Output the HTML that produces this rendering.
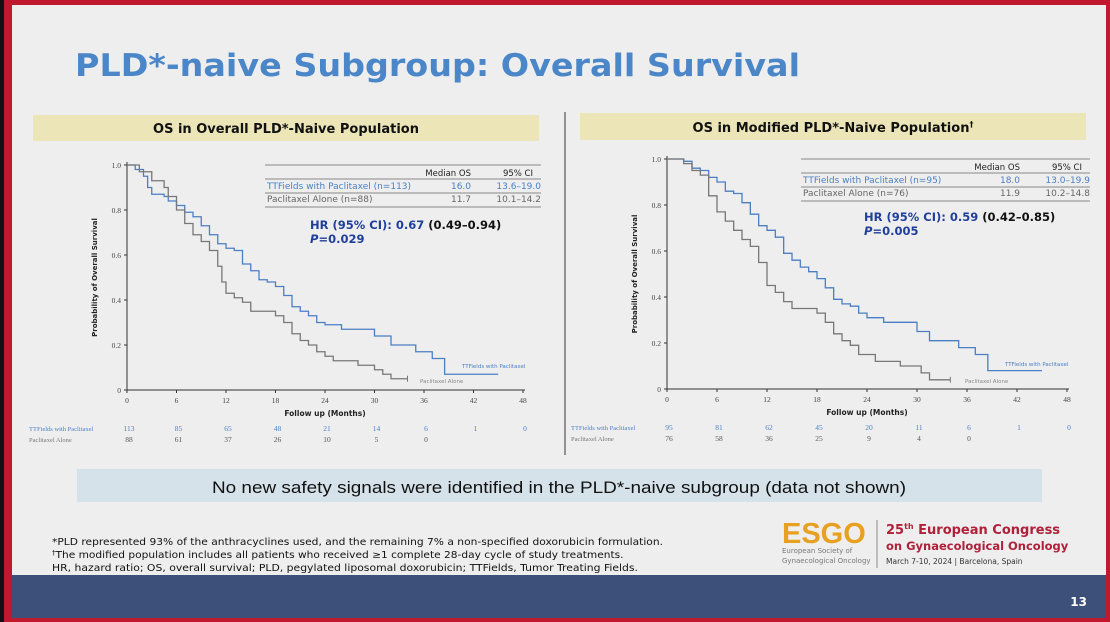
<!DOCTYPE html>
<html><head><meta charset="utf-8"><style>
html,body{margin:0;padding:0;width:1110px;height:622px;overflow:hidden;background:#111}
svg{display:block;font-family:"DejaVu Sans","Liberation Sans",sans-serif}
</style></head><body>
<svg id="s" width="1110" height="622" viewBox="0 0 1110 622" xmlns="http://www.w3.org/2000/svg">
<rect x="0" y="0" width="1110" height="622" fill="#c0182c"/>
<rect x="0" y="0" width="4" height="622" fill="#111"/>
<rect x="12" y="5" width="1094" height="612" fill="#eeeeee"/>
<rect x="12" y="575" width="1094" height="43" fill="#3d5079"/>
<text x="1087" y="606" font-size="12" fill="#fff" text-anchor="end" font-weight="bold">13</text>
<text x="75" y="76" font-size="31" font-weight="bold" fill="#4a86c8" textLength="725" lengthAdjust="spacingAndGlyphs">PLD*-naive Subgroup: Overall Survival</text>
<rect x="33" y="115" width="506" height="26" fill="#ebe5b8"/>
<text x="286" y="133" font-size="13" font-weight="bold" text-anchor="middle" fill="#111">OS in Overall PLD*-Naive Population</text>
<rect x="580" y="113" width="506" height="27" fill="#ebe5b8"/>
<text x="833" y="132" font-size="13" font-weight="bold" text-anchor="middle" fill="#111">OS in Modified PLD*-Naive Population<tspan font-size="8" dy="-5">†</tspan></text>
<line x1="565" y1="112" x2="565" y2="455" stroke="#555" stroke-width="1.2"/>
<rect x="77" y="469" width="965" height="33" fill="#d6e2ea"/>
<text x="212" y="493" font-size="17" fill="#111" font-family="Liberation Sans, sans-serif" textLength="694" lengthAdjust="spacingAndGlyphs">No new safety signals were identified in the PLD*-naive subgroup  (data not shown)</text>
<g font-size="9.5" fill="#111">
<text x="52" y="545" textLength="611" lengthAdjust="spacingAndGlyphs">*PLD represented 93% of the anthracyclines used, and the remaining 7% a non-specified doxorubicin formulation.</text>
<text x="52" y="558"><tspan font-size="7" dy="-3">†</tspan><tspan dy="3" textLength="568" lengthAdjust="spacingAndGlyphs">The modified population includes all patients who received ≥1 complete 28-day cycle of study treatments.</tspan></text>
<text x="52" y="571" textLength="586" lengthAdjust="spacingAndGlyphs">HR, hazard ratio; OS, overall survival; PLD, pegylated liposomal doxorubicin; TTFields, Tumor Treating Fields.</text>
</g>
<text x="782" y="543" font-size="29" font-weight="bold" fill="#e8a020" font-family="Liberation Sans, sans-serif">ESGO</text>
<text x="782" y="553" font-size="7" fill="#777">European Society of</text>
<text x="782" y="563" font-size="7" fill="#777">Gynaecological Oncology</text>
<line x1="877" y1="520" x2="877" y2="568" stroke="#888"/>
<text x="886" y="534" font-size="13" font-weight="bold" fill="#b0203a">25<tspan font-size="8" dy="-5">th</tspan><tspan dy="5"> European Congress</tspan></text>
<text x="886" y="550" font-size="11.5" font-weight="bold" fill="#b0203a">on Gynaecological Oncology</text>
<text x="886" y="564" font-size="7.5" fill="#333">March 7-10, 2024 | Barcelona, Spain</text>
<g id="c1"></g><g id="c2"></g>
</svg>
<script>
var NS="http://www.w3.org/2000/svg";
function el(p,t,a,txt){var e=document.createElementNS(NS,t);for(var k in a)e.setAttribute(k,a[k]);if(txt!==undefined)e.textContent=txt;p.appendChild(e);return e;}
function chart(g,o){
 var X=function(m){return o.x0+m*(o.x48-o.x0)/48},Y=function(v){return o.y0-v*(o.y0-o.y1)};
 el(g,"line",{x1:o.x0,y1:o.y1-3,x2:o.x0,y2:o.y0,stroke:"#333","stroke-width":1});
 el(g,"line",{x1:o.x0,y1:o.y0,x2:o.x48+2,y2:o.y0,stroke:"#333","stroke-width":1});
 for(var i=0;i<=5;i++){var v=i/5,y=Y(v);el(g,"line",{x1:o.x0-3,y1:y,x2:o.x0,y2:y,stroke:"#333"});
  el(g,"text",{x:o.x0-6,y:y+3,"font-size":7.5,"text-anchor":"end",fill:"#444","font-family":"Liberation Serif,serif"},i==0?"0":v.toFixed(1));}
 for(var m=0;m<=48;m+=6){var x=X(m);el(g,"line",{x1:x,y1:o.y0,x2:x,y2:o.y0+3,stroke:"#333"});
  el(g,"text",{x:x,y:o.y0+13,"font-size":7.5,"text-anchor":"middle",fill:"#444","font-family":"Liberation Serif,serif"},m);}
 el(g,"text",{x:(o.x0+o.x48)/2,y:o.y0+26,"font-size":7.5,"font-weight":"bold","text-anchor":"middle",fill:"#222"},"Follow up (Months)");
 var ax=o.x0-30,ay=(o.y0+o.y1)/2;
 el(g,"text",{x:ax,y:ay,"font-size":7,"font-weight":"bold","text-anchor":"middle",fill:"#222",transform:"rotate(-90 "+ax+" "+ay+")"},"Probability of Overall Survival");
 [[o.b,"#4a7fc4"],[o.r,"#777"]].forEach(function(s){var p=s[0],d="M"+X(0)+","+Y(1);
  for(var i=1;i<p.length;i++){d+=" H"+X(p[i][0])+" V"+Y(p[i][1]);}
  el(g,"path",{d:d,fill:"none",stroke:s[1],"stroke-width":1.3});});
 var le=o.r[o.r.length-1];el(g,"line",{x1:X(le[0]),y1:Y(le[1])-3,x2:X(le[0]),y2:Y(le[1])+3,stroke:"#777"});
 el(g,"text",{x:o.bl[0],y:o.bl[1],"font-size":5.5,fill:"#4a7fc4"},"TTFields with Paclitaxel");
 el(g,"text",{x:o.rl[0],y:o.rl[1],"font-size":5.5,fill:"#888"},"Paclitaxel Alone");
 var tx=o.tx,ty=o.ty,tw=o.tw;
 el(g,"line",{x1:tx,y1:ty,x2:tx+tw,y2:ty,stroke:"#888"});
 el(g,"text",{x:tx+tw-70,y:ty+11,"font-size":8.5,"text-anchor":"end",fill:"#222"},"Median OS");
 el(g,"text",{x:tx+tw-8,y:ty+11,"font-size":8.5,"text-anchor":"end",fill:"#222"},"95% CI");
 el(g,"line",{x1:tx,y1:ty+14,x2:tx+tw,y2:ty+14,stroke:"#888"});
 el(g,"text",{x:tx+2,y:ty+24,"font-size":9,fill:"#4a7fc4"},o.t1[0]);
 el(g,"text",{x:tx+tw-80,y:ty+24,"font-size":9,"text-anchor":"middle",fill:"#4a7fc4"},o.t1[1]);
 el(g,"text",{x:tx+tw,y:ty+24,"font-size":9,"text-anchor":"end",fill:"#4a7fc4"},o.t1[2]);
 el(g,"line",{x1:tx,y1:ty+28,x2:tx+tw,y2:ty+28,stroke:"#888"});
 el(g,"text",{x:tx+2,y:ty+37,"font-size":9,fill:"#666"},o.t2[0]);
 el(g,"text",{x:tx+tw-80,y:ty+37,"font-size":9,"text-anchor":"middle",fill:"#666"},o.t2[1]);
 el(g,"text",{x:tx+tw,y:ty+37,"font-size":9,"text-anchor":"end",fill:"#666"},o.t2[2]);
 el(g,"line",{x1:tx,y1:ty+42,x2:tx+tw,y2:ty+42,stroke:"#888"});
 var h=el(g,"text",{x:o.hx,y:o.hy,"font-size":11.5,"font-weight":"bold",fill:"#1f3f9a"});
 h.innerHTML='HR (95% CI): '+o.hr+' <tspan fill="#111">'+o.ci+'</tspan>';
 el(g,"text",{x:o.hx,y:o.hy+14,"font-size":11.5,"font-weight":"bold",fill:"#1f3f9a"}).innerHTML='<tspan font-style="italic">P</tspan>='+o.p;
 el(g,"text",{x:o.rx,y:o.y0+41,"font-size":6.5,fill:"#4a7fc4","font-family":"Liberation Serif,serif"},"TTFields with Paclitaxel");
 el(g,"text",{x:o.rx,y:o.y0+52,"font-size":6.5,fill:"#777","font-family":"Liberation Serif,serif"},"Paclitaxel Alone");
 o.n1.forEach(function(n,i){el(g,"text",{x:X(i*6)+2,y:o.y0+41,"font-size":7.5,"text-anchor":"middle",fill:"#4a7fc4","font-family":"Liberation Serif,serif"},n);});
 o.n2.forEach(function(n,i){el(g,"text",{x:X(i*6)+2,y:o.y0+52,"font-size":7.5,"text-anchor":"middle",fill:"#555","font-family":"Liberation Serif,serif"},n);});
}
chart(document.getElementById("c1"),{x0:127,x48:523,y0:390,y1:165,
 b:[[0,1],[1,.98],[2,.95],[2.5,.9],[3,.87],[4.5,.86],[5,.84],[6,.82],[7,.79],[8,.77],[9,.73],[10,.69],[11,.65],[12,.63],[13,.62],[14,.56],[15,.53],[16,.49],[17,.48],[18,.46],[19,.42],[20,.37],[21,.35],[22,.33],[23,.3],[24,.29],[26,.27],[29.5,.27],[30,.24],[32,.2],[35,.17],[37,.14],[38.5,.07],[45,.07]],
 r:[[0,1],[1.5,.97],[3,.93],[4.5,.9],[5,.86],[6,.8],[7,.74],[8,.69],[9,.66],[10,.62],[11,.55],[11.5,.48],[12,.43],[13,.41],[14,.39],[15,.35],[18,.33],[19,.3],[20,.25],[21,.22],[22,.2],[23,.17],[24,.15],[25,.13],[28,.11],[30,.09],[31,.07],[32,.05],[34,.05]],
 bl:[462,368],rl:[420,383],tx:265,ty:165,tw:276,
 t1:["TTFields with Paclitaxel (n=113)","16.0","13.6–19.0"],t2:["Paclitaxel Alone (n=88)","11.7","10.1–14.2"],
 hx:310,hy:229,hr:"0.67",ci:"(0.49–0.94)",p:"0.029",rx:29,
 n1:["113","85","65","48","21","14","6","1","0"],n2:["88","61","37","26","10","5","0"]});
chart(document.getElementById("c2"),{x0:667,x48:1067,y0:389,y1:159,
 b:[[0,1],[2,.99],[3,.96],[4,.95],[5,.92],[6,.9],[7,.86],[8,.85],[9,.81],[10,.76],[11,.71],[12,.69],[13,.66],[14,.59],[15,.56],[16,.53],[17,.51],[18,.48],[19,.44],[20,.39],[21,.37],[22,.36],[23,.33],[24,.31],[26,.29],[29.5,.29],[30,.25],[31.5,.21],[35,.18],[37,.15],[38.5,.08],[45,.08]],
 r:[[0,1],[2,.98],[3,.95],[4,.93],[5,.84],[6,.77],[7,.73],[8,.69],[9,.65],[10,.62],[11,.55],[12,.45],[13,.42],[14,.38],[15,.35],[18,.33],[19,.29],[20,.24],[21,.21],[22,.19],[23,.15],[25,.12],[28,.1],[30.5,.07],[31.5,.04],[34,.04]],
 bl:[1005,366],rl:[965,383],tx:801,ty:159,tw:289,
 t1:["TTFields with Paclitaxel (n=95)","18.0","13.0–19.9"],t2:["Paclitaxel Alone (n=76)","11.9","10.2–14.8"],
 hx:864,hy:221,hr:"0.59",ci:"(0.42–0.85)",p:"0.005",rx:571,
 n1:["95","81","62","45","20","11","6","1","0"],n2:["76","58","36","25","9","4","0"]});
</script>
</body></html>
